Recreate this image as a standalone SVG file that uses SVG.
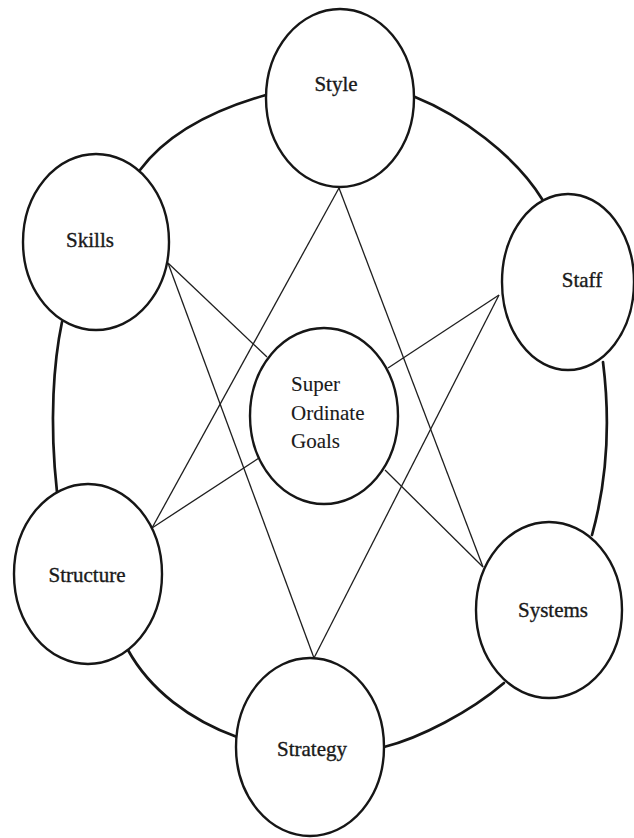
<svg xmlns="http://www.w3.org/2000/svg" width="634" height="838" viewBox="0 0 634 838">
  <style>
    .bg { fill: #ffffff; }
    .node { fill: #ffffff; stroke: #161616; stroke-width: 2.4; }
    .ring { fill: none; stroke: #161616; stroke-width: 2.7; stroke-linecap: round; }
    .link { fill: none; stroke: #1e1e1e; stroke-width: 1.3; }
    .label { font-family: "Liberation Serif", "Times New Roman", serif; font-size: 21px; fill: #1a1a1a; stroke: #1a1a1a; stroke-width: 0.35; text-anchor: middle; }
    .label-left { text-anchor: start; stroke-width: 0.1; }
  </style>
  <rect class="bg" x="0" y="0" width="634" height="838"/>

  <!-- outer ring arcs and cross links -->
  <g id="connectors">
    <path class="ring" d="M266,95 C220,108 170,130 140,170"/>
    <path class="ring" d="M415,97 C460,115 515,155 542,199"/>
    <path class="ring" d="M62,322 C54,360 49,420 57,492"/>
    <path class="ring" d="M603,362 C609,410 610,470 592,535"/>
    <path class="ring" d="M128,650 C150,690 190,720 237,737"/>
    <path class="ring" d="M384,747 C420,738 470,712 504,683"/>

    <line class="link" x1="339" y1="188" x2="152" y2="528"/>
    <line class="link" x1="339" y1="188" x2="483" y2="567"/>
    <line class="link" x1="168" y1="263" x2="267" y2="357"/>
    <line class="link" x1="168" y1="263" x2="314" y2="658"/>
    <line class="link" x1="499" y1="295" x2="388" y2="368"/>
    <line class="link" x1="499" y1="295" x2="314" y2="658"/>
    <line class="link" x1="259" y1="458" x2="152" y2="528"/>
    <line class="link" x1="385" y1="470" x2="483" y2="567"/>
  </g>

  <g id="style">
    <ellipse class="node" cx="340" cy="98" rx="74" ry="89"/>
    <text class="label" x="336" y="91">Style</text>
  </g>

  <g id="skills">
    <ellipse class="node" cx="96" cy="242" rx="73" ry="88"/>
    <text class="label" x="90" y="247">Skills</text>
  </g>

  <g id="staff">
    <ellipse class="node" cx="568" cy="282" rx="66" ry="88"/>
    <text class="label" x="582" y="287">Staff</text>
  </g>

  <g id="super-ordinate-goals">
    <ellipse class="node" cx="324" cy="416" rx="74" ry="88"/>
    <text class="label label-left" x="291" y="391">Super</text>
    <text class="label label-left" x="291" y="420">Ordinate</text>
    <text class="label label-left" x="291" y="448">Goals</text>
  </g>

  <g id="structure">
    <ellipse class="node" cx="88" cy="574" rx="74" ry="90"/>
    <text class="label" x="87" y="582">Structure</text>
  </g>

  <g id="systems">
    <ellipse class="node" cx="549" cy="610" rx="73" ry="88"/>
    <text class="label" x="553" y="617">Systems</text>
  </g>

  <g id="strategy">
    <ellipse class="node" cx="310" cy="747" rx="74" ry="89"/>
    <text class="label" x="312" y="756">Strategy</text>
  </g>
</svg>
